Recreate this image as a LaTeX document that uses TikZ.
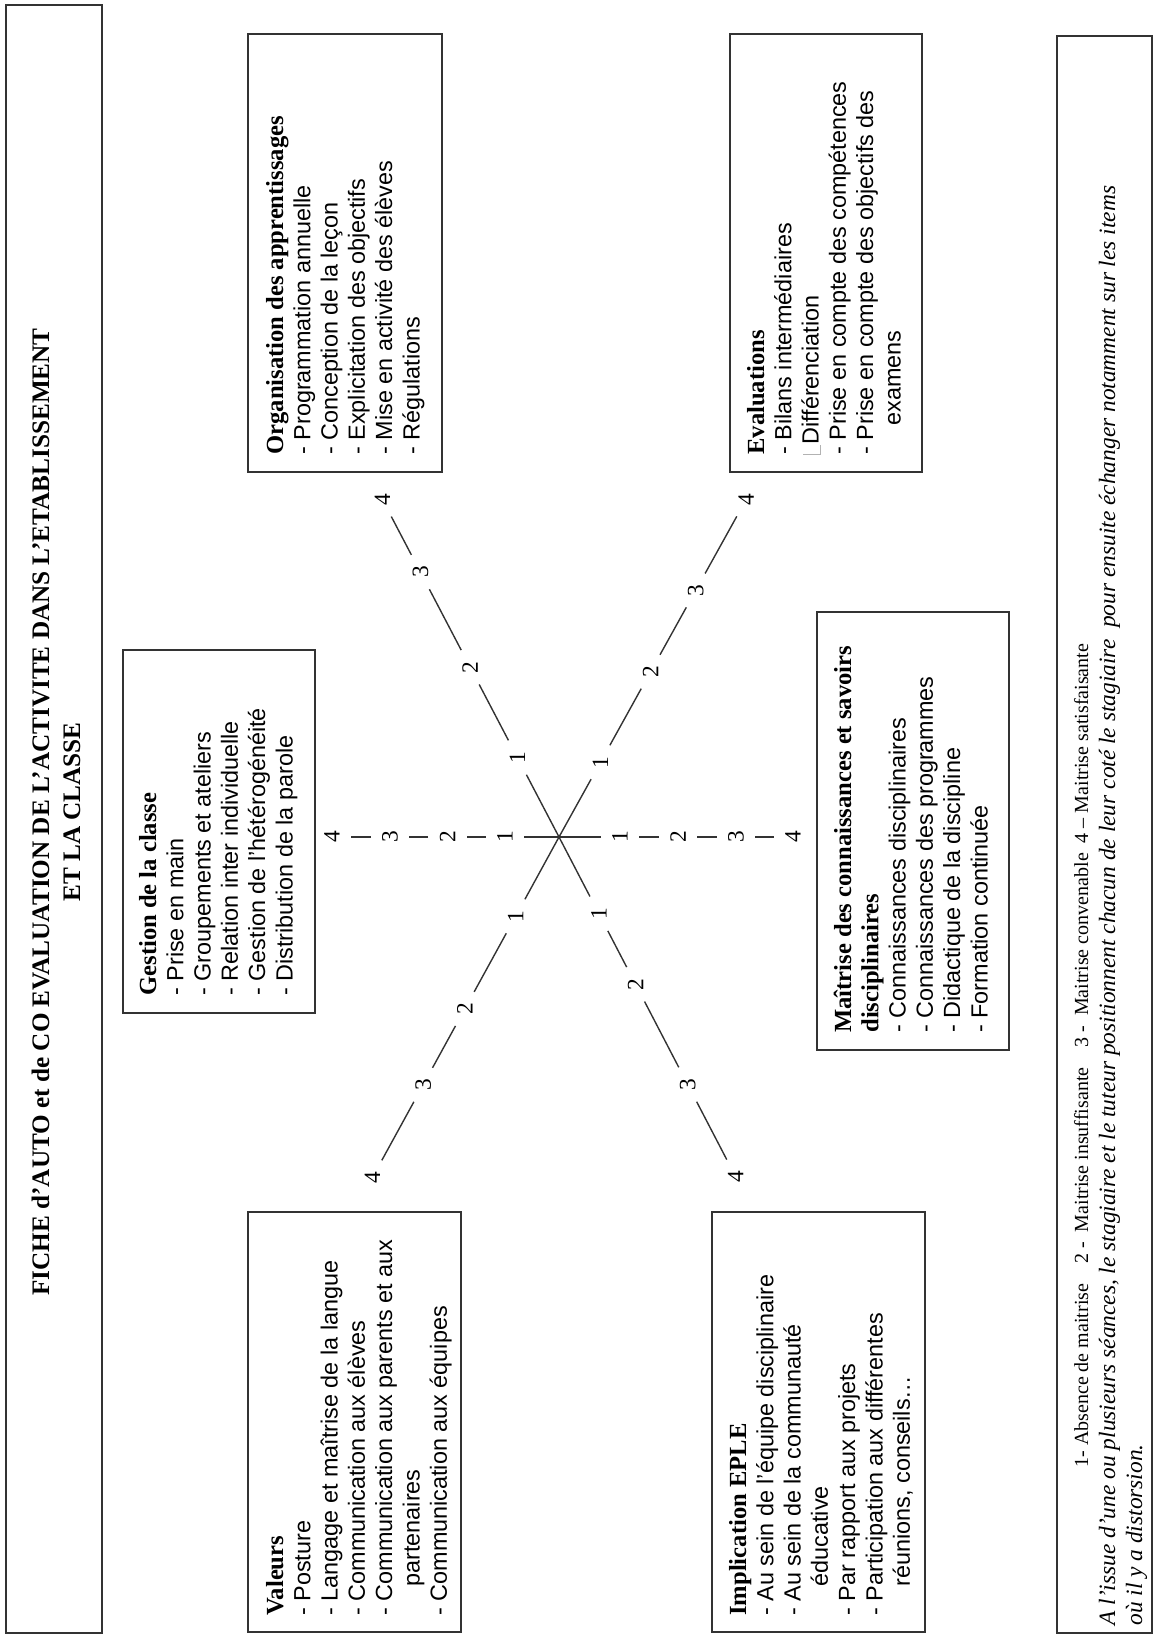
\documentclass[tikz,border=0pt]{standalone}
\usepackage{fontspec}
\setmainfont{Liberation Serif}
\newfontfamily\arialf{Liberation Sans}
\begin{document}
\begin{tikzpicture}[x=0.5pt,y=-0.5pt,
  frame/.style={draw=black!80,line width=0.9pt},
  ttl/.style={rotate=90,anchor=base,inner sep=0pt,font=\fontsize{12.6}{15}\selectfont\bfseries},
  hdr/.style={rotate=90,anchor=base west,inner sep=0pt,font=\fontsize{12.3}{14}\selectfont\bfseries},
  itm/.style={rotate=90,anchor=base west,inner sep=0pt,font=\arialf\fontsize{11.7}{14}\selectfont},
  lgd/.style={rotate=90,anchor=base west,inner sep=0pt,font=\fontsize{11.7}{14}\selectfont},
  num/.style={circle,minimum size=19pt,inner sep=0pt,rotate=90,font=\fontsize{11.7}{14}\selectfont},
  ray/.style={draw=black!80,line width=0.7pt}]
\useasboundingbox (0,0) rectangle (1158,1641);

% ---------- title ----------
\draw[frame] (6,5) rectangle (102,1633);
\node[ttl] (title1) at (49,812) {FICHE d’AUTO et de CO EVALUATION DE L’ACTIVITE DANS L’ETABLISSEMENT};
\node[ttl] (title2) at (80,812) {ET LA CLASSE};

% ---------- Organisation ----------
\draw[frame] (248,34) rectangle (442,472);
\node[hdr] (org-h) at (283,455) {Organisation des apprentissages};
\foreach \t [count=\i] in {{- Programmation annuelle},{- Conception de la leçon},{- Explicitation des objectifs},{- Mise en activité des élèves},{- Régulations}}
  \node[itm] (org-\i) at ({283+27.3*\i},455) {\t};

% ---------- Evaluations ----------
\draw[frame] (730,34) rectangle (922,472);
\node[hdr] (eva-h) at (764,455) {Evaluations};
\node[itm] (eva-1) at (791.3,455) {- Bilans intermédiaires};
\node[itm] (eva-2) at (818.6,455) {\textcolor{black!30}{\rule[-1pt]{0.5pt}{9pt}\rule[-1pt]{4.5pt}{0.5pt}}Différenciation};
\node[itm] (eva-3) at (845.9,455) {- Prise en compte des compétences};
\node[itm] (eva-4) at (873.2,455) {- Prise en compte des objectifs des};
\node[itm] (eva-5) at (900.5,455) {\hspace*{1.25em}examens};

% ---------- Gestion ----------
\draw[frame] (123,650) rectangle (315,1013);
\node[hdr] (ges-h) at (156,996) {Gestion de la classe};
\foreach \t [count=\i] in {{- Prise en main},{- Groupements et ateliers},{- Relation inter individuelle},{- Gestion de l’hétérogénéité},{- Distribution de la parole}}
  \node[itm] (ges-\i) at ({156+27.3*\i},996) {\t};

% ---------- Maitrise ----------
\draw[frame] (817,612) rectangle (1009,1050);
\node[hdr] (mai-h) at (851,1033) {Maîtrise des connaissances et savoirs};
\node[hdr] (mai-h2) at (878.3,1033) {disciplinaires};
\foreach \t [count=\i] in {{- Connaissances disciplinaires},{- Connaissances des programmes},{- Didactique de la discipline},{- Formation continuée}}
  \node[itm] (mai-\i) at ({878.3+27.3*\i},1033) {\t};

% ---------- Valeurs ----------
\draw[frame] (248,1212) rectangle (461,1632);
\node[hdr] (val-h) at (283,1616) {Valeurs};
\foreach \t [count=\i] in {{- Posture},{- Langage et maîtrise de la langue},{- Communication aux élèves},{- Communication aux parents et aux},{\hspace*{1.25em}partenaires},{- Communication aux équipes}}
  \node[itm] (val-\i) at ({283+27.3*\i},1616) {\t};

% ---------- Implication ----------
\draw[frame] (712,1212) rectangle (925,1632);
\node[hdr] (imp-h) at (746,1616) {Implication EPLE};
\foreach \t [count=\i] in {{- Au sein de l’équipe disciplinaire},{- Au sein de la communauté},{\hspace*{1.25em}éducative},{- Par rapport aux projets},{- Participation aux différentes},{\hspace*{1.25em}réunions, conseils…}}
  \node[itm] (imp-\i) at ({746+27.3*\i},1616) {\t};

% ---------- legend box ----------
\draw[frame] (1057,36) rectangle (1152,1633);
\node[lgd,font=\fontsize{10}{12}\selectfont] (leg1) at (1088,1468) {1- Absence de maitrise\hspace{1em}2 -\ \ Maitrise insuffisante\hspace{1em}3 -\ \ Maitrise convenable\hspace{0.5em}4 – Maitrise satisfaisante};
\node[lgd] (leg2) at (1115,1626) {\itshape A l’issue d’une ou plusieurs séances, le stagiaire et le tuteur positionnent chacun de leur coté le stagiaire\ \ pour ensuite échanger notamment sur les items};
\node[lgd] (leg3) at (1142,1626) {\itshape où il y a distorsion.};

% ---------- star ----------
\coordinate (C) at (559,837);
\node[num] (hl1) at (505,837) {1};
\node[num] (hl2) at (447.5,837) {2};
\node[num] (hl3) at (390,837) {3};
\node[num] (hl4) at (332,837) {4};
\node[num] (hr1) at (620,837) {1};
\node[num] (hr2) at (678,837) {2};
\node[num] (hr3) at (736,837) {3};
\node[num] (hr4) at (793,837) {4};
\node[num] (ul1) at (517.4,757.5) {1};
\node[num] (ul2) at (470.2,667.3) {2};
\node[num] (ul3) at (420.4,572.1) {3};
\node[num] (ul4) at (382.3,499.4) {4};
\node[num] (ur1) at (600.5,762.2) {1};
\node[num] (ur2) at (650.6,671.7) {2};
\node[num] (ur3) at (695.7,590.4) {3};
\node[num] (ur4) at (746.2,499.4) {4};
\node[num] (ll1) at (515.6,916.3) {1};
\node[num] (ll2) at (464.8,1008.9) {2};
\node[num] (ll3) at (423.2,1084.8) {3};
\node[num] (ll4) at (372.5,1177.3) {4};
\node[num] (lr1) at (598.9,913.7) {1};
\node[num] (lr2) at (635.6,984.3) {2};
\node[num] (lr3) at (687.7,1084.5) {3};
\node[num] (lr4) at (735.7,1176.8) {4};

\foreach \r in {hl,hr,ul,ur,ll,lr}
  \draw[ray] (C) -- (\r1) -- (\r2) -- (\r3) -- (\r4);
\end{tikzpicture}
\end{document}
